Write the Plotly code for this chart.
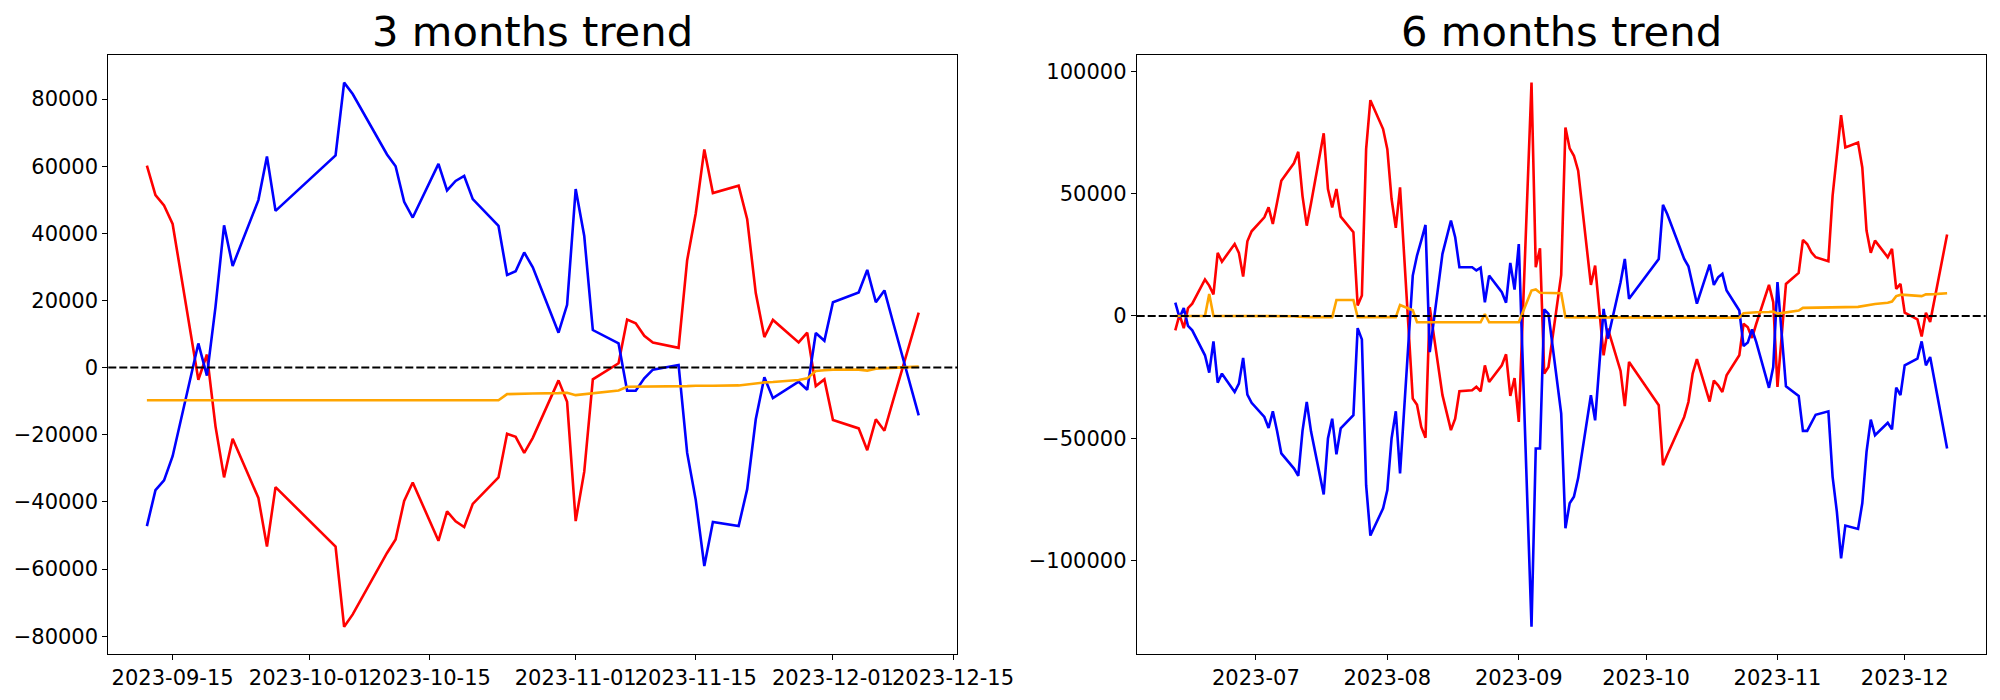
import pandas as pd
import plotly.graph_objects as go

# ---------------- 3 months data ----------------
L_dates = [
    "2023-09-12", "2023-09-13", "2023-09-14", "2023-09-15", "2023-09-18", "2023-09-19",
    "2023-09-20", "2023-09-21", "2023-09-22", "2023-09-25", "2023-09-26", "2023-09-27",
    "2023-10-04", "2023-10-05", "2023-10-06", "2023-10-10", "2023-10-11", "2023-10-12",
    "2023-10-13", "2023-10-16", "2023-10-17", "2023-10-18", "2023-10-19", "2023-10-20",
    "2023-10-23", "2023-10-24", "2023-10-25", "2023-10-26", "2023-10-27", "2023-10-30",
    "2023-10-31",
    "2023-11-01", "2023-11-02", "2023-11-03", "2023-11-06", "2023-11-07", "2023-11-08",
    "2023-11-09", "2023-11-10", "2023-11-13", "2023-11-14", "2023-11-15", "2023-11-16",
    "2023-11-17", "2023-11-20", "2023-11-21", "2023-11-22", "2023-11-23", "2023-11-24",
    "2023-11-27", "2023-11-28", "2023-11-29", "2023-11-30",
    "2023-12-01", "2023-12-04", "2023-12-05", "2023-12-06", "2023-12-07", "2023-12-08",
    "2023-12-11",
]
L_red = [
    60200, 51400, 48300, 42800, -3600, 3900, -17500, -32700, -21200, -38800, -53300, -35600,
    -53300, -77200, -73500, -55200, -51200, -39700, -34200, -51600, -42800, -45800, -47500,
    -40600, -32700, -19700, -20600, -25400, -20900, -3800, -10200,
    -45700, -31000, -3500, 1300, 14300, 13200, 9500, 7500, 5900, 32000, 45900, 65000, 52000,
    54200, 44200, 22200, 9100, 14200, 7500, 10400, -5500, -3500,
    -15600, -18100, -24600, -15400, -18800, -9900, 16400,
]
L_blue = [
    -47200, -36500, -33600, -26400, 7200, -2400, 18100, 42400, 30300, 49900, 62900, 46700,
    63200, 84900, 81500, 63500, 60000, 49400, 44700, 60700, 52800, 55600, 57100, 50200,
    42200, 27600, 28700, 34300, 29900, 10400, 18700,
    53200, 39200, 11200, 7200, -6900, -6900, -3200, -600, 800, -25400, -39400, -59100,
    -46000, -47200, -36200, -15400, -2900, -9100, -4200, -6600, 10300, 8000,
    19500, 22400, 29100, 19500, 23000, 13600, -14200,
]
L_orange = [
    -9700, -9700, -9700, -9700, -9700, -9700, -9700, -9700, -9700, -9700, -9700, -9700,
    -9700, -9700, -9700, -9650, -9650, -9650, -9650, -9700, -9700, -9700, -9700, -9700,
    -9700, -7900, -7800, -7700, -7700, -7600, -7500,
    -8200, -7900, -7500, -6800, -5700, -5700, -5700, -5700, -5600, -5500, -5400, -5300,
    -5400, -5300, -5000, -4600, -4400, -4300, -3700, -3200, -1000, -800,
    -600, -600, -900, -300, -200, 0, 300,
]
L_xticks = ["2023-09-15", "2023-10-01", "2023-10-15", "2023-11-01", "2023-11-15",
            "2023-12-01", "2023-12-15"]
L_yticks = [-80000, -60000, -40000, -20000, 0, 20000, 40000, 60000, 80000]

# ---------------- 6 months data ----------------
R_dates = [
    "2023-06-12", "2023-06-13", "2023-06-14", "2023-06-15", "2023-06-16", "2023-06-19",
    "2023-06-20", "2023-06-21", "2023-06-22", "2023-06-23", "2023-06-26", "2023-06-27",
    "2023-06-28", "2023-06-29", "2023-06-30",
    "2023-07-03", "2023-07-04", "2023-07-05", "2023-07-06", "2023-07-07", "2023-07-10",
    "2023-07-11", "2023-07-12", "2023-07-13", "2023-07-14", "2023-07-17", "2023-07-18",
    "2023-07-19", "2023-07-20", "2023-07-21", "2023-07-24", "2023-07-25", "2023-07-26",
    "2023-07-27", "2023-07-28", "2023-07-31",
    "2023-08-01", "2023-08-02", "2023-08-03", "2023-08-04", "2023-08-07", "2023-08-08",
    "2023-08-09", "2023-08-10", "2023-08-11", "2023-08-14", "2023-08-16", "2023-08-17",
    "2023-08-18", "2023-08-21", "2023-08-22", "2023-08-23", "2023-08-24", "2023-08-25",
    "2023-08-28", "2023-08-29", "2023-08-30", "2023-08-31",
    "2023-09-01", "2023-09-04", "2023-09-05", "2023-09-06", "2023-09-07", "2023-09-08",
    "2023-09-11", "2023-09-12", "2023-09-13", "2023-09-14", "2023-09-15", "2023-09-18",
    "2023-09-19", "2023-09-20", "2023-09-21", "2023-09-22", "2023-09-25", "2023-09-26",
    "2023-09-27",
    "2023-10-04", "2023-10-05", "2023-10-06", "2023-10-10", "2023-10-11", "2023-10-12",
    "2023-10-13", "2023-10-16", "2023-10-17", "2023-10-18", "2023-10-19", "2023-10-20",
    "2023-10-23", "2023-10-24", "2023-10-25", "2023-10-26", "2023-10-27", "2023-10-30",
    "2023-10-31",
    "2023-11-01", "2023-11-02", "2023-11-03", "2023-11-06", "2023-11-07", "2023-11-08",
    "2023-11-09", "2023-11-10", "2023-11-13", "2023-11-14", "2023-11-15", "2023-11-16",
    "2023-11-17", "2023-11-20", "2023-11-21", "2023-11-22", "2023-11-23", "2023-11-24",
    "2023-11-27", "2023-11-28", "2023-11-29", "2023-11-30",
    "2023-12-01", "2023-12-04", "2023-12-05", "2023-12-06", "2023-12-07", "2023-12-08",
    "2023-12-11",
]
R_red = [
    -5900, 500, -5000, 3200, 5000, 14900, 12400, 8800, 25800, 22200, 29400, 25800, 16100,
    30500, 34600,
    40300, 44400, 37600, 46400, 55300, 62500, 67100, 49000, 36900, 46000, 74700, 51900,
    44400, 51900, 40600, 34200, 4300, 8400, 68200, 88200, 76400,
    68200, 47800, 36000, 52600, -33800, -36300, -45400, -49800, 3600, -32400, -46700,
    -42000, -30800, -30400, -29000, -30800, -20200, -27000, -20200, -15700, -32700, -25400,
    -43300, 95400, 19900, 27700, -23600, -20900, 16800, 77000, 68500, 65500, 59400, 12700,
    20600, 2200, -16100, -5200, -22500, -36900, -18800,
    -36500, -61000, -56900, -41300, -35200, -23600, -17700, -35000, -26400, -28400, -31100,
    -24300, -16100, -3200, -4600, -9000, -3200, 12700, 5600,
    -29000, -8000, 13100, 17600, 31100, 29400, 26000, 24000, 22400, 49200, 65500, 82100,
    68900, 70900, 60700, 34900, 25800, 30800, 24000, 27400, 11100, 13100,
    1300, -1400, -8400, 1300, -2500, 6300, 33300,
]
R_blue = [
    5400, -700, 3200, -4100, -5900, -16100, -23200, -10400, -27300, -23600, -31100, -27700,
    -17200, -32200, -35500,
    -41300, -45800, -39000, -47000, -56200, -62400, -65400, -47000, -35200, -47200, -73000,
    -50100, -42000, -56600, -46000, -40600, -5000, -9600, -69200, -89800, -78700,
    -71200, -50100, -39000, -64400, 16500, 24700, 30800, 37200, -14800, 25400, 39000,
    32200, 19900, 19900, 18600, 19700, 5600, 16500, 9700, 5400, 21700, 10800,
    29400, -127100, -54200, -54200, 2700, 900, -39900, -86800, -76600, -73900, -66300,
    -32400, -42700, -20200, 2900, -9300, 13800, 23300, 7000,
    23300, 45400, 41700, 23300, 20300, 12400, 5000, 21000, 12700, 15800, 17200, 10400, 2200,
    -12300, -10900, -5500, -10700, -29400, -20900,
    13800, -7300, -28800, -32700, -47000, -47000, -44000, -40400, -39000, -65800, -80000,
    -99100, -85700, -87100, -76600, -55600, -42400, -48800, -43700, -46400, -29300, -32400,
    -20200, -17500, -10400, -20200, -16800, -26200, -54200,
]
R_orange = [
    0, 0, 0, 0, 0, 0, 9000, 0, 0, 0, 100, 100, 100, 100, 100,
    100, 100, 100, 100, 100, -100, -300, -400, -500, -500, -500, -500, -500, 6500, 6500,
    6500, -500, -500, -500, -500, -500,
    -500, -500, -500, 4500, 2300, -2600, -2600, -2600, -2600, -2600, -2600, -2600, -2600,
    -2600, -2600, -2600, 800, -2600, -2600, -2600, -2600, -2600,
    -2600, 10400, 10800, 9500, 9400, 9400, 9300, -500, -600, -600, -600, -600, -600, -600,
    -700, -700, -700, -700, -700,
    -700, -700, -700, -700, -700, -700, -700, -700, -700, -700, -700, -700, -700, 1100,
    1300, 1400, 1500, 1600, 1800,
    900, 1100, 1600, 2200, 3300, 3300, 3300, 3300, 3400, 3500, 3600, 3600, 3600, 3700,
    4000, 4400, 4700, 4900, 5400, 5900, 8100, 8600,
    8600, 8400, 8100, 8800, 8800, 8900, 9300,
]
R_xticks = ["2023-07-01", "2023-08-01", "2023-09-01", "2023-10-01", "2023-11-01",
            "2023-12-01"]
R_yticks = [-100000, -50000, 0, 50000, 100000]

TITLES = ["3 months trend", "6 months trend"]


def date_range(dates, frac=0.05):
    lo, hi = pd.Timestamp(min(dates)), pd.Timestamp(max(dates))
    pad = (hi - lo) * frac
    return [(lo - pad).strftime("%Y-%m-%d %H:%M:%S"), (hi + pad).strftime("%Y-%m-%d %H:%M:%S")]


def val_range(series, frac=0.05):
    lo = min(min(s) for s in series)
    hi = max(max(s) for s in series)
    pad = (hi - lo) * frac
    return [lo - pad, hi + pad]


W, H = 2000, 700
FONT = "DejaVu Sans"
fig = go.Figure()

panels = [
    ("x", "y", L_dates, L_red, L_blue, L_orange),
    ("x2", "y2", R_dates, R_red, R_blue, R_orange),
]
for xa, ya, d, r, b, o in panels:
    for vals, col in ((r, "red"), (b, "blue"), (o, "orange")):
        fig.add_trace(go.Scatter(x=d, y=vals, mode="lines", xaxis=xa, yaxis=ya,
                                 line=dict(color=col, width=2.6), showlegend=False,
                                 hoverinfo="skip"))

common_axis = dict(showline=True, mirror=True, linecolor="black", linewidth=1,
                   ticks="outside", ticklen=5, tickcolor="black", tickwidth=1,
                   showgrid=False, zeroline=False, automargin=False,
                   tickfont=dict(family=FONT, size=21, color="black"))

ydom = [(H - 654) / H, (H - 55.4) / H]
fig.update_layout(
    width=W, height=H, autosize=False,
    margin=dict(l=0, r=0, t=0, b=0, pad=0, autoexpand=False),
    paper_bgcolor="white", plot_bgcolor="white",
    xaxis=dict(domain=[108.3 / W, 957.3 / W], anchor="y", range=date_range(L_dates),
               tickvals=L_xticks, tickformat="%Y-%m-%d", tickangle=0, **common_axis),
    yaxis=dict(domain=ydom, anchor="x", range=val_range([L_red, L_blue, L_orange]),
               tickvals=L_yticks, tickformat="d", **common_axis),
    xaxis2=dict(domain=[1136.7 / W, 1985.7 / W], anchor="y2", range=date_range(R_dates),
                tickvals=R_xticks, tickformat="%Y-%m", tickangle=0, **common_axis),
    yaxis2=dict(domain=ydom, anchor="x2", range=val_range([R_red, R_blue, R_orange]),
                tickvals=R_yticks, tickformat="d", **common_axis),
)

for xa, ya in (("x", "y"), ("x2", "y2")):
    fig.add_shape(type="line", xref=f"{xa} domain", yref=ya, x0=0, x1=1, y0=0, y1=0,
                  line=dict(color="black", width=2, dash="8px,3px"))

centers = [(108.3 + 957.3) / 2 / W, (1136.7 + 1985.7) / 2 / W]
for cx, t in zip(centers, TITLES):
    fig.add_annotation(text=t, x=cx, y=1 - 32 / H, xref="paper", yref="paper",
                       xanchor="center", yanchor="middle", showarrow=False,
                       font=dict(family=FONT, size=41.7, color="black"))

fig.write_html("out.html", config={"displayModeBar": False},
               post_script="document.body.style.margin='0';document.body.style.padding='0';")
